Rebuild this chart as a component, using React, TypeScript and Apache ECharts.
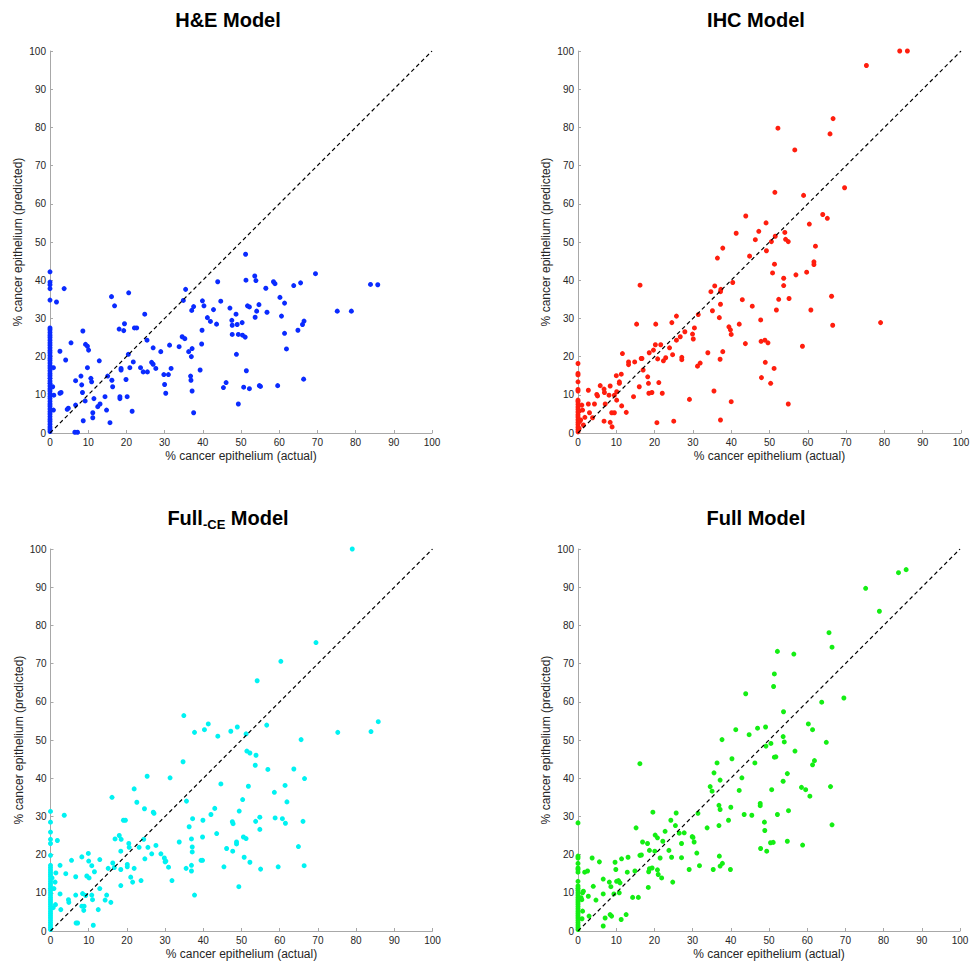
import React, { useEffect, useRef } from "react";
import * as echarts from "echarts";

const FONT = '"Liberation Sans", Arial, Helvetica, sans-serif';

const panelTitles = ["H&E Model", "IHC Model", "{a|Full}{b|-CE}{a| Model}", "Full Model"];
const xAxisName = "% cancer epithelium (actual)";
const yAxisName = "% cancer epithelium (predicted)";
const pointColors = ["#0a2bff", "#ff1e0e", "#00f2f2", "#14ee14"];
const diagonal = [[0, 0], [100, 100]];

const heData = [
  [0,42.2],[0,39.5],[0,38.8],[0,37.8],[0,34.8],[0,27.5],[0,27],[0,26.3],[0,25.6],[0,25],[0,24.3],[0,23.6],[0,23],[0,22.3],[0,21.6],[0,21],[0,20.3],[0,19.6],[0,19],[0,18.3],[0,17.6],[0,17],[0,16.3],[0,15.6],[0,15],[0,14.3],[0,13.6],[0,13],[0,12.3],[0,11.6],[0,11],[0,10.3],[0,9.6],[0,9],[0,8.3],[0,7.6],[0,7],[0,6.3],[0,5.6],[0,5],[0,4.3],[0,3.6],[0,3],[0,2.3],[0,1.6],[0,1],[0,0.4],
  [3.7,37.8],[1.7,34.3],[2.6,21.4],[4.1,19.1],[5.5,23.6],[0.9,17.1],[0.7,12.1],[1.0,9.9],[0.9,6],[2.6,10.4],[2.9,10.6],[4.5,6.2],[4.8,6.5],[6.7,13.7],[6.7,7.3],[6.5,0.2],[7.2,0.2],[8.1,14.9],[8.3,12.6],[8.5,10.6],[8.6,26.7],[8.7,3.2],[9.3,23.2],[9.8,22.7],[10.1,21.7],[9.8,17.1],[9.2,8.4],[10.7,14.3],[10.9,13.4],[11.2,5.3],[11.2,4.0],[11.5,9.0],[12.5,6.9],[13.1,7.6],[12.9,18.9],[14.4,9.5],[14.8,6.0],[15.1,14.9],[15.7,2.7],[16.1,35.7],[16.2,13.8],[16.4,12.1],[16.9,33.3],[18.3,9.0],[18.3,9.5],[18.1,27.2],[18.6,16.9],[18.6,16.5],[19.3,26.8],[19.5,28.6],[19.9,14],[20.2,9.5],[20.6,36.7],[20.5,20.6],[20.9,17.1],[21.5,5.7],[21.8,18.6],[22.1,27.5],[22.7,27.5],[23.7,17.1],[24.4,16],[25.5,16],[24.8,31.1],[25.4,24.3],[26.6,18.5],[27,18],[27,22.3],[27.7,16.9],[29,21.3],[29.8,15.3],[30,12.7],[30.3,10.4],[31,15.3],[31.3,23],[31.7,16.9],[33.8,22.6],[34.6,25.2],[35.3,24.7],[34.9,34.7],[35.5,37.6],[36.3,21.3],[37,20],[37.1,32.1],[37.2,22.1],[36.8,14.9],[36.9,13.8],[37.2,11.0],[37.6,5.3],[37.6,33.1],[39.3,16.5],[39.7,23.3],[39.8,26.9],[39.9,34.6],[40.3,33.3],[41.2,30.2],[42,29.2],[42.8,32.3],[43.6,28.5],[43.9,39.6],[44.7,34.5],[45.4,11.9],[46.1,13.2],[47.1,32.7],[47.6,29.5],[47.7,28.2],[47.7,25.8],[48.8,20.6],[48.7,31.1],[49,28.4],[49.3,25.8],[49.3,7.6],[50.3,28.9],[50.4,25.6],[51.1,25.1],[51.2,46.8],[51.3,40.0],[51.7,33.3],[52.2,33.0],[51.4,16.3],[50.7,12.0],[52.2,11.6],[53.6,41.1],[53.9,39.9],[53.7,30.3],[54.1,31.9],[54.7,33.6],[54.8,12.4],[55.1,12.2],[56.5,37.9],[56.8,31.6],[58.5,39.6],[58.9,39.1],[59.6,12.4],[60.2,35.5],[60.6,30.6],[61.4,34.0],[61.4,26.1],[61.9,22],[63.8,38.6],[64.9,26.9],[65.6,39.3],[66.1,28.4],[66.5,29.3],[66.4,14.1],[69.5,41.7],[75.2,31.9],[78.9,31.9],[83.9,38.9],[85.8,38.8]
];

const ihcData = [
  [0,18.2],[0,15.6],[0,15.2],[0,13.4],[0,11.4],[0,11],[0,8.6],[0,8.2],[0,7.5],[0,6.8],[0,6.2],[0,5.5],[0,4.8],[0,4.2],[0,3.5],[0,2.8],[0,2.2],[0,1.5],[0,0.9],[0,0.3],[0.4,5.8],[0.4,3],[0.3,1.2],
  [1,7.3],[1.2,6],[0.7,3.4],[1.8,4.1],[1.4,2.1],[2.7,11.2],[3,5.3],[2.7,7.6],[4.3,7.6],[3.8,4],[4.9,10.1],[5.1,9.7],[5.8,12.4],[6.8,11.5],[6.9,10.6],[7.1,7.6],[6.8,3.1],[8.4,12.3],[8.1,9.9],[8.4,2.8],[8.9,1.6],[8.8,5.3],[9.5,5.3],[9.5,9.9],[10,15],[10.1,10.8],[10.1,8.6],[10.8,13.4],[10.8,13],[11.3,15.4],[11.4,7.1],[11.6,20.8],[12.6,5.4],[13.2,18.6],[13.2,17.9],[14.5,9.5],[14.8,18.6],[15.3,28.5],[16,12.1],[16.2,38.7],[16.5,19.5],[16.7,19.5],[17,16.5],[18.2,14.7],[18.4,13],[18.6,21],[18.5,10.4],[19.3,10.6],[19.7,21.7],[20.2,23.1],[20.3,28.5],[20.8,19.4],[20.6,2.7],[21.1,13.2],[21.6,23.1],[22,10.4],[22.3,18.9],[22.9,19.7],[23.9,22.3],[24.5,28.9],[24.7,20.5],[25,3.1],[25.7,30.6],[25.7,24.3],[26.7,25.2],[27.1,19.8],[27.1,19.2],[27.9,26.5],[29.1,8.8],[29.9,25.9],[30.1,24.6],[30.4,27.5],[31.2,17.5],[31.4,31],[31.9,18.3],[33.9,21],[34.7,37],[35.1,32],[35.5,11],[35.7,38.5],[36.4,45.8],[36.9,30.2],[37.2,3.4],[37.1,19.3],[37.2,37],[37.3,37.6],[37.2,33.7],[37.8,48.4],[37.8,21.3],[39.4,27.8],[39.8,27],[40,25.8],[40,8.2],[40.4,39.4],[41.3,52.3],[42.1,28.5],[42.9,34.9],[43.8,56.8],[43.7,23.4],[44.8,46.3],[45.5,33.2],[46.3,50.6],[47.2,52.8],[47.7,29.6],[47.8,24],[47.9,14.5],[48.8,24.3],[48.9,18.5],[49.1,55],[49.2,47.7],[49.6,23.6],[50.3,13],
  [84,100],[86,100],[75.3,96.2],[66.6,82.3],[65.8,78.3],[52.2,79.8],[56.6,74.1],[51.4,63],[58.9,62.2],[69.6,64.2],[63.9,57.2],[65.1,56.2],[60.4,54.7],[54.0,52.5],[51.5,51.5],[54.2,50.7],[50.5,50.1],[54.9,50.1],[62,48.9],[51.3,44.2],[50.8,41.9],[56.9,41.4],[59.7,42.1],[61.6,44.8],[61.6,44.1],[53.7,40.5],[53.7,38.6],[52.4,35],[55.1,35.2],[66.2,35.8],[51.8,32.2],[60.8,32.2],[66.5,28.2],[79,28.9],[58.6,22.7],[51.2,16.9],[54.9,7.6]
];

const fullCeData = [
  [0,31.3],[0,28.5],[0,25.9],[0,24],[0,22.9],[0,19.8],[0,17.2],[0,16.6],[0,16],[0,15.4],[0,14.8],[0,14.2],[0,13.6],[0,13],[0,12.4],[0,11.8],[0,11.2],[0,10.6],[0,10],[0,9.4],[0,8.8],[0,8.2],[0,7.6],[0,7],[0,6.4],[0,5.8],[0,5.2],[0,4.6],[0,4],[0,3.4],[0,2.8],[0,2.2],[0,1.6],[0,1],[0,0.4],
  [1.8,23.7],[3.6,30.3],[2.5,17.2],[4.0,15.0],[1.4,15.2],[0.4,13.9],[1.2,12.8],[0.9,11.1],[2.5,9.7],[1.3,6.9],[0.7,6.1],[2.7,5.6],[4.7,8.2],[4.8,7.5],[5.5,18.5],[6.6,14.2],[6.6,9.4],[6.7,2.1],[7.1,2.1],[8.2,19.4],[8.4,9.8],[8.2,6.5],[8.8,6.5],[8.7,5.4],[9.5,14.4],[10.1,13.9],[9.9,20.3],[10,18.3],[9.2,9.3],[10.8,17.1],[10.8,9.4],[11.0,8.2],[11.5,15.5],[11.2,1.5],[12.5,5.6],[12.9,18.7],[12.9,11.1],[14.3,8.1],[14.7,9.4],[15.1,16.4],[15.8,7.5],[16.1,35],[16.3,17.8],[16.7,16.6],[16.9,24.1],[18,25],[18.5,24],[18.4,20.9],[18.4,16.1],[18.4,11.9],[19.1,29],[19.6,29],[20.1,17.4],[20.1,16.8],[20.5,22.9],[20.6,21.9],[21,14.1],[21.5,12.8],[21.9,37.2],[21.9,16.4],[22.6,33.7],[23.2,21.9],[23.7,13.2],[24.4,24],[24.6,32],[24.7,18.9],[25.3,40.5],[25.5,21.9],[26.5,20.2],[26.9,31.1],[27.1,30.8],[27.6,22.4],[28.9,20.2],[29.8,19.1],[30,18.1],[30.2,18.3],[30.9,16.7],[31.3,40.1],[31.8,13.2],[33.7,23.3],[34.7,44.3],[34.9,56.4],[35.5,16.4],[35.6,34],[36.3,27.3],[36.9,24.1],[37.1,22],[37.1,20.7],[36.9,17.2],[36.9,15.7],[37.2,29.4],[37.7,52],[37.7,9.4],[39.4,18.5],[39.8,18.5],[39.8,24.6],[39.9,29],[40.3,52.7],[41.3,54.2],[42,30.5],[43,32.1],[43.5,25.5],[43.8,51],[44.6,38.5],[45.4,16.8],[46.1,21.6],[47.2,52.3],[47.7,20.9],[47.6,28.6],[47.8,28.1],[48.7,23.3],[48.7,22.8],[48.9,53.4],[49.4,31.4],[49.3,11.6],
  [79,100],[69.5,75.5],[60.3,70.6],[54.1,65.5],[56.6,53.9],[51.2,51.6],[75.2,52],[83.9,52.2],[85.8,54.8],[65.6,50.1],[51.4,47.1],[52.2,46.6],[53.8,46],[53.6,43.4],[56.9,42.3],[63.7,42.4],[66.5,39.9],[51.8,37.9],[61.4,38.1],[58.6,36.3],[50.3,34.4],[61.9,33.8],[53.7,28.7],[54.8,29.8],[58.8,29.6],[60.7,29.4],[61.5,28.2],[66.1,28.7],[54.8,26.6],[50.5,24.6],[51.2,24.2],[64.9,22.1],[50.7,19.3],[52.2,18],[55,16.2],[59.6,16.8],[66.4,17.1]
];

const fullData = [
  [0,28.3],[0,19.6],[0,19.1],[0,17.7],[0,16.5],[0,16.1],[0,15.4],[0,13.0],[0,11.8],[0,11.2],[0,10.6],[0,10],[0,9.4],[0,8.8],[0,8.2],[0,7.6],[0,7],[0,6.4],[0,5.8],[0,5.2],[0,4.6],[0,4],[0,3.4],[0,2.8],[0,2.2],[0,1.6],[0,1],[0,0.4],
  [1.4,10.4],[1.2,10],[0.8,8.7],[1,8.2],[1.2,5.2],[1.05,3.2],[1.75,15.4],[2.5,15.7],[2.7,9.1],[2.9,3.9],[3.7,19.1],[4,11.7],[4.7,8.1],[5.6,18.1],[6.6,13.6],[6.6,9.7],[6.6,1.3],[7.1,3.4],[8.2,12.8],[8.6,11.6],[8.4,4.3],[8.8,3.9],[9.4,9.7],[9.7,18],[9.9,16.1],[10.1,13.0],[10.6,13.2],[11,12.6],[10.8,10],[11.4,18.9],[11.3,3],[12.6,4.3],[12.9,15.4],[13.1,19.3],[14.3,8.8],[14.9,15.7],[15.2,27],[15.8,8.8],[16.2,43.8],[16.2,19.8],[16.6,19.9],[16.9,23.3],[18.2,22.9],[18.4,11.4],[18.5,15.5],[18.7,21.1],[18.7,16.3],[19.4,16.5],[19.6,31.1],[20.1,20.9],[20.2,25.1],[20.8,24.4],[20.8,16],[21,14.8],[21.5,19.1],[21.9,13.9],[22.2,23.5],[22.8,26.1],[23.8,21.1],[24.3,29],[24.5,19.3],[24.8,12.8],[25.5,27.6],[25.7,30.9],[26.5,25.6],[27.1,22.9],[27.1,19.2],[27.8,25.7],[29.1,16.1],[29.9,24.7],[30.1,24.5],[30.4,23.3],[31.1,20.4],[31.4,30.8],[31.8,17.1],[33.8,27],[34.6,37.8],[35.1,36.6],[35.6,41.4],[35.4,16.1],[36.4,44],[36.9,32.9],[37.2,31.8],[36.9,27.6],[37,19.6],[37.2,39.5],[37.2,17],[37.8,17.7],[37.7,50.1],[39.4,29],[39.9,16.1],[40,32.4],[40.3,45.1],[41.3,52.7],[42.2,36.8],[42.9,40.1],[43.5,30.5],[43.9,62.1],[44.8,51.4],[45.5,30.3],[46.3,44],[47.0,53.1],[47.7,33.4],[47.7,32.8],[47.8,21.6],[48.8,28.5],[48.9,26.3],[49.1,53.4],[49.2,48.4],[49.4,20.9],
  [83.9,93.8],[85.9,94.6],[75.3,89.7],[78.9,83.7],[65.7,78.1],[66.5,74.3],[52.2,73.2],[56.5,72.5],[51.4,67.3],[51.2,64],[63.8,59.9],[69.6,61],[53.8,57.4],[60.3,54.2],[61.4,52.7],[53.7,50.9],[54,49.5],[65,49.4],[50.5,49.1],[56.8,47.1],[51.4,45.5],[51.8,45.6],[61.9,44.6],[61.4,43.5],[54.8,41.2],[53.7,39.2],[50.7,37],[58.5,37.6],[59.6,37],[66.1,37.8],[60.7,35.3],[55.1,31.5],[52.2,30.5],[66.5,27.8],[54.8,23.5],[50.4,23.1],[51.1,23.2],[58.8,22.5]
];

const panelData = [heData, ihcData, fullCeData, fullData];

const gridBoxes = [
  { left: 50, top: 51, width: 382, height: 382 },
  { left: 578, top: 51, width: 383, height: 382 },
  { left: 50.5, top: 549, width: 382, height: 382 },
  { left: 578, top: 549, width: 382, height: 382 },
];
const titleCenters = [
  [228, 20],
  [756, 20],
  [228, 518],
  [756, 518],
];

const axisColor = "#a8a8a8";
const textColor = "#262626";

function makeAxis(i: number, isX: boolean) {
  return {
    type: "value",
    gridIndex: i,
    min: 0,
    max: 100,
    interval: 10,
    name: isX ? xAxisName : yAxisName,
    nameLocation: "middle",
    nameGap: isX ? 17 : 26,
    nameRotate: isX ? 0 : 90,
    nameMoveOverlap: false,
    nameTextStyle: { fontSize: 12, color: textColor, fontFamily: FONT },
    axisLine: { show: true, onZero: false, lineStyle: { color: axisColor, width: 1 } },
    axisTick: { show: true, inside: true, length: 3, lineStyle: { color: axisColor, width: 1 } },
    axisLabel: { fontSize: 10, color: textColor, margin: 4, fontFamily: FONT },
    splitLine: { show: false },
  };
}

export default function App() {
  const ref = useRef<HTMLDivElement>(null);
  useEffect(() => {
    if (!ref.current) return;
    const chart = echarts.init(ref.current, null, { renderer: "svg" });
    const series: any[] = [];
    panelData.forEach((d, i) => {
      series.push({
        type: "scatter",
        xAxisIndex: i,
        yAxisIndex: i,
        data: d,
        symbol: "circle",
        symbolSize: 5,
        itemStyle: { color: pointColors[i], opacity: 1 },
        silent: true,
        z: 2,
      });
      series.push({
        type: "line",
        xAxisIndex: i,
        yAxisIndex: i,
        data: diagonal,
        symbol: "none",
        lineStyle: { color: "#000", width: 1.2, type: [4, 3] },
        silent: true,
        z: 3,
      });
    });
    const graphics = panelTitles.map((t, i) => ({
      type: "text",
      x: titleCenters[i][0],
      y: titleCenters[i][1],
      silent: true,
      style: {
        text: t,
        align: "center",
        verticalAlign: "middle",
        textAlign: "center",
        textVerticalAlign: "middle",
        fill: "#000",
        font: `bold 20px ${FONT}`,
        rich: {
          a: { fontSize: 20, fontWeight: "bold", fontFamily: FONT, lineHeight: 26, fill: "#000" },
          b: { fontSize: 13, fontWeight: "bold", fontFamily: FONT, lineHeight: 13, verticalAlign: "bottom", fill: "#000" },
        },
      },
    }));
    chart.setOption({
      animation: false,
      backgroundColor: "#fff",
      grid: gridBoxes.map((g) => ({ ...g, containLabel: false, outerBoundsMode: "none" })),
      xAxis: gridBoxes.map((_, i) => makeAxis(i, true)),
      yAxis: gridBoxes.map((_, i) => makeAxis(i, false)),
      series,
      graphic: graphics,
    });
    return () => chart.dispose();
  }, []);
  return (
    <div
      ref={ref}
      style={{ position: "fixed", left: 0, top: 0, width: 973, height: 961, background: "#fff" }}
    />
  );
}
